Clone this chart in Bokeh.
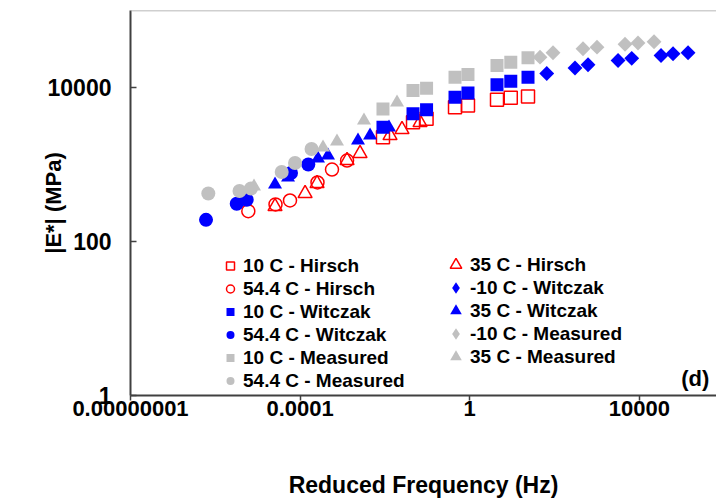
from math import pi
from bokeh.plotting import figure
from bokeh.models import Range1d, FixedTicker, Legend, LegendItem, Label, Span
from bokeh.embed import file_html
from bokeh.resources import INLINE

# ---------------- data (reduced frequency in Hz, |E*| in MPa) ----------------
f_10C = [0.0090, 0.046, 0.096, 0.45, 0.91, 4.4, 9.3, 23.7]
E_10C_hirsch = [2260, 3540, 3920, 5550, 5840, 6920, 7350, 7640]
E_10C_witczak = [3050, 4550, 5130, 7480, 8490, 10840, 12080, 13600]
E_10C_measured = [5260, 9140, 9770, 13600, 14750, 19300, 21300, 24300]

f_35C_hirsch = [2.56e-5, 1.31e-4, 2.51e-4, 1.28e-3, 2.59e-3, 0.0132, 0.0253, 0.0673]
E_35C_hirsch = [285, 420, 567, 1127, 1390, 2380, 2850, 3510]
f_35C_witczak = [2.56e-5, 5.19e-5, 2.64e-4, 4.55e-4, 2.32e-3, 4.46e-3, 0.0125]
E_35C_witczak = [550, 678, 1197, 1309, 2050, 2380, 3025]
f_35C_measured = [8.18e-6, 3.47e-4, 7.41e-4, 3.21e-3, 0.0193]
E_35C_measured = [518, 1663, 1990, 3726, 6385]

f_54C_hirsch = [6.0e-6, 2.63e-5, 5.78e-5, 2.57e-4, 5.65e-4, 1.28e-3]
E_54C_hirsch = [248, 303, 341, 584, 861, 1127]
f_54C_witczak = [6.04e-7, 3.20e-6, 5.51e-6, 6.10e-5, 1.56e-4]
E_54C_witczak = [191, 309, 348, 776, 1000]
f_54C_measured = [6.84e-7, 3.72e-6, 6.95e-6, 3.68e-5, 7.59e-5, 1.86e-4]
E_54C_measured = [420, 453, 488, 799, 1046, 1589]

f_m10C_witczak = [65.5, 304, 617, 3150, 6620, 32500, 62400, 140900]
E_m10C_witczak = [15200, 17910, 19770, 22430, 23940, 26050, 27400, 28230]
f_m10C_measured = [45.5, 92.2, 470, 1005, 4600, 9310, 22230]
E_m10C_measured = [24760, 28230, 31830, 33380, 36500, 37840, 39240]

x_ticks = [1e-8, 1e-4, 1, 1e4]
x_tick_labels = ["0.00000001", "0.0001", "1", "10000"]
y_ticks = [1, 100, 10000]
y_tick_labels = ["1", "100", "10000"]

x_title = "Reduced Frequency (Hz)"
y_title = "|E*| (MPa)"
panel_tag = "(d)"

# ---------------- styling ----------------
RED = "#FF0000"
BLUE = "#0000FF"
GRAY = "#C0C0C0"
FONT = "Liberation Sans"
AXIS = "#404040"

p = figure(width=716, height=500, x_axis_type="log", y_axis_type="log",
           x_range=Range1d(1e-8, 10 ** 5.82), y_range=Range1d(1, 1e5),
           output_backend="svg", toolbar_location=None,
           min_border_left=130, min_border_right=0, min_border_top=10,
           min_border_bottom=105)
p.title.visible = False
p.grid.visible = False
p.outline_line_color = None
p.background_fill_color = "white"
p.border_fill_color = "white"

p.add_layout(Span(location=1e5, dimension="width", line_color="#A0A0A0", line_width=1.5))

hollow = dict(fill_color=None, line_width=1.5)
solid = dict(line_color=None)

r_10h = p.scatter(f_10C, E_10C_hirsch, marker="square", size=13, line_color=RED, **hollow)
r_35h = p.scatter(f_35C_hirsch, E_35C_hirsch, marker="triangle", size=14, line_color=RED, **hollow)
r_54h = p.scatter(f_54C_hirsch, E_54C_hirsch, marker="circle", size=13, line_color=RED, **hollow)

# small diamonds under the rotated squares: they give the legend its diamond glyph
lg_m10w = p.scatter(f_m10C_witczak, E_m10C_witczak, marker="diamond", size=7, fill_color=BLUE, **solid)
r_m10w = p.scatter(f_m10C_witczak, E_m10C_witczak, marker="square", angle=pi / 4, size=10.5, fill_color=BLUE, **solid)
r_10w = p.scatter(f_10C, E_10C_witczak, marker="square", size=13, fill_color=BLUE, **solid)
r_35w = p.scatter(f_35C_witczak, E_35C_witczak, marker="triangle", size=14, fill_color=BLUE, **solid)
r_54w = p.scatter(f_54C_witczak, E_54C_witczak, marker="circle", size=14, fill_color=BLUE, **solid)

lg_m10m = p.scatter(f_m10C_measured, E_m10C_measured, marker="diamond", size=7, fill_color=GRAY, **solid)
r_m10m = p.scatter(f_m10C_measured, E_m10C_measured, marker="square", angle=pi / 4, size=10.5, fill_color=GRAY, **solid)
r_10m = p.scatter(f_10C, E_10C_measured, marker="square", size=13, fill_color=GRAY, **solid)
r_35m = p.scatter(f_35C_measured, E_35C_measured, marker="triangle", size=14, fill_color=GRAY, **solid)
r_54m = p.scatter(f_54C_measured, E_54C_measured, marker="circle", size=14, fill_color=GRAY, **solid)

# ---------------- axes ----------------
xa = p.xaxis[0]
xa.ticker = FixedTicker(ticks=x_ticks)
xa.major_label_overrides = dict(zip(x_ticks, x_tick_labels))
ya = p.yaxis[0]
ya.ticker = FixedTicker(ticks=y_ticks)
ya.major_label_overrides = dict(zip(y_ticks, y_tick_labels))

for ax in (xa, ya):
    ax.axis_line_color = AXIS
    ax.axis_line_width = 2
    ax.major_tick_line_color = AXIS
    ax.major_tick_line_width = 1.5
    ax.minor_tick_line_color = None
    ax.major_label_text_font = FONT
    ax.major_label_text_font_style = "bold"
    ax.major_label_text_font_size = "22px"
    ax.major_label_text_color = "black"
    ax.axis_label_text_font = FONT
    ax.axis_label_text_font_style = "bold"
    ax.axis_label_text_color = "black"

xa.major_tick_in = 0
xa.major_tick_out = 5
xa.major_label_standoff = 0
xa.axis_label = x_title
xa.axis_label_text_font_size = "23px"
xa.axis_label_standoff = 53

ya.major_label_text_font_size = "23px"
ya.major_tick_in = 6
ya.major_tick_out = 0
ya.major_label_standoff = 19
ya.axis_label = y_title
ya.axis_label_text_font_size = "22px"
ya.axis_label_standoff = -21

# ---------------- legends ----------------
leg_text = dict(border_line_color=None, background_fill_alpha=0, label_text_font=FONT,
                label_text_font_style="bold", label_text_font_size="19px",
                label_text_color="black", padding=0, margin=0, spacing=0)

# left column: small glyphs
leg1 = Legend(items=[
    LegendItem(label="10 C - Hirsch", renderers=[r_10h]),
    LegendItem(label="54.4 C - Hirsch", renderers=[r_54h]),
    LegendItem(label="10 C - Witczak", renderers=[r_10w]),
    LegendItem(label="54.4 C - Witczak", renderers=[r_54w]),
    LegendItem(label="10 C - Measured", renderers=[r_10m]),
    LegendItem(label="54.4 C - Measured", renderers=[r_54m]),
], location=(90, 3), glyph_width=20, glyph_height=23, label_height=23,
   label_standoff=3, **leg_text)
p.add_layout(leg1)

# right column: larger triangle / diamond glyphs, one single-row legend per entry
col2_labels = ["35 C - Hirsch", "-10 C - Witczak", "35 C - Witczak",
               "-10 C - Measured", "35 C - Measured"]
col2_renderers = [r_35h, lg_m10w, r_35w, lg_m10m, r_35m]
row_step = 22.9
for i, (lab, rend) in enumerate(zip(col2_labels, col2_renderers)):
    bottom = round(395 - (265 + row_step * i) - 14.5)
    p.add_layout(Legend(items=[LegendItem(label=lab, renderers=[rend])],
                        location=(311, bottom), glyph_width=29, glyph_height=29,
                        label_height=29, label_standoff=0, **leg_text))

p.add_layout(Label(x=10 ** 5.65, y=10 ** 0.227, text=panel_tag, text_align="right",
                   text_baseline="middle", text_font=FONT, text_font_style="bold",
                   text_font_size="22px", text_color="black"))

open("out.html", "w").write(file_html(p, INLINE))
